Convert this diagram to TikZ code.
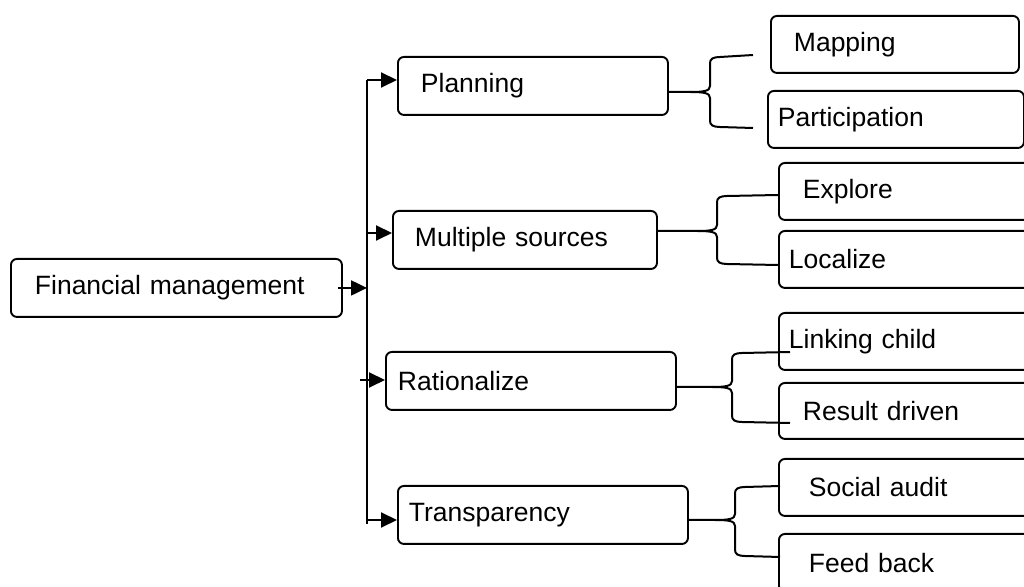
\documentclass[tikz,border=0pt]{standalone}
\usepackage{fontspec}
\setmainfont{Liberation Sans}
\usetikzlibrary{arrows.meta,calc}

\tikzset{
  cardbox/.style={draw, line width=0.95pt, rounded corners=3pt, anchor=north west,
    align=left, inner ysep=0pt, minimum height=29pt,
    font=\fontsize{13.25pt}{16pt}\selectfont},
  wire/.style={line width=1pt},
  wirearrow/.style={wire, -{Triangle[length=8pt,width=7.5pt]}}
}

% curly fork: #1 parent, #2 fork height, #3 cusp x, #4 stem x,
% #5 upper arm y, #6 lower arm y, #7 upper end, #8 lower end
\newcommand\curlyfork[8]{%
  \draw[wire] (#1.east |- 0,#2) -- (#3,#2)
    .. controls (#4-6,#2) and (#4,#2-1) .. (#4,#2-6) -- (#4,#5+6)
    .. controls (#4,#5+2) and (#4+3,#5) .. (#4+10,#5) -- #7;
  \draw[wire] (#3,#2)
    .. controls (#4-6,#2) and (#4,#2+1) .. (#4,#2+6) -- (#4,#6-6)
    .. controls (#4,#6-2) and (#4+3,#6) .. (#4+10,#6) -- #8;}

\begin{document}
\begin{tikzpicture}[x=0.5pt, y=-0.5pt]
\useasboundingbox (0,0) rectangle (1024,587);
\clip (0,0) rectangle (1024,587);

% root
\node[cardbox, minimum width=165.5pt, text width=141.5pt, inner xsep=12pt] (fm) at (10,258) {Financial management};

% second level
\node[cardbox, minimum width=135pt, text width=112pt, inner xsep=11.5pt] (plan) at (397,56) {Planning};
\node[cardbox, minimum width=132pt, text width=110pt, inner xsep=11pt] (multi) at (392,210) {Multiple sources};
\node[cardbox, minimum width=145pt, text width=133pt, inner xsep=6pt] (ratio) at (385,351) {Rationalize};
\node[cardbox, minimum width=145pt, text width=134pt, inner xsep=5.5pt] (trans) at (397,485) {Transparency};

% third level
\node[cardbox, minimum width=124pt, minimum height=28.5pt, text width=101pt, inner xsep=11.5pt] (mapping) at (770,15) {Mapping};
\node[cardbox, minimum width=128pt, minimum height=28.5pt, text width=118pt, inner xsep=5pt] (partic) at (767,90) {Participation};
\node[cardbox, minimum width=131pt, minimum height=28.5pt, text width=107pt, inner xsep=12pt] (explore) at (778,162) {Explore};
\node[cardbox, minimum width=131pt, minimum height=28.5pt, text width=121pt, inner xsep=5pt] (localize) at (778,230) {Localize};
\node[cardbox, minimum width=131pt, minimum height=28.5pt, text width=121pt, inner xsep=5pt] (linking) at (778,312) {Linking child};
\node[cardbox, minimum width=131pt, minimum height=28pt, text width=107pt, inner xsep=12pt] (result) at (778,382) {Result driven};
\node[cardbox, minimum width=131pt, minimum height=28.5pt, text width=101pt, inner xsep=15pt] (social) at (778,458) {Social audit};
\node[cardbox, minimum width=131pt, text width=101pt, inner xsep=15pt] (feed) at (778,533) {Feed back};

% distribution bus
\coordinate (busTop) at (367,80);
\coordinate (busBot) at (367,524);
\coordinate (busM) at (367,233);
\coordinate (busR) at (360,380);
\coordinate (busT) at (367,520);

\draw[wire] (busTop) -- (busBot);
\draw[wirearrow] ([xshift=-2.5pt]fm.east) -- (fm.east -| busTop);
\draw[wirearrow] (busTop) -- (busTop -| plan.west);
\draw[wirearrow] (busM) -- (busM -| multi.west);
\draw[wirearrow] (busR) -- (busR -| ratio.west);
\draw[wirearrow] (busT) -- (busT -| trans.west);

% curly forks to the third level
\curlyfork{plan}{92}{690}{710}{57}{127}
  {($(mapping.west |- 0,55)+(-17,0)$)}{($(partic.west |- 0,128)+(-14,0)$)}
\curlyfork{multi}{231}{697}{717}{196}{264}
  {(explore.west |- 0,195)}{(localize.west |- 0,265)}
\curlyfork{ratio}{387}{712}{732}{353}{422}
  {($(linking.west |- 0,352)+(12,0)$)}{($(result.west |- 0,423)+(12,0)$)}
\curlyfork{trans}{520}{715}{735}{487}{556}
  {($(social.west |- 0,486)+(2,0)$)}{($(feed.west |- 0,557)+(2,0)$)}
\end{tikzpicture}
\end{document}
